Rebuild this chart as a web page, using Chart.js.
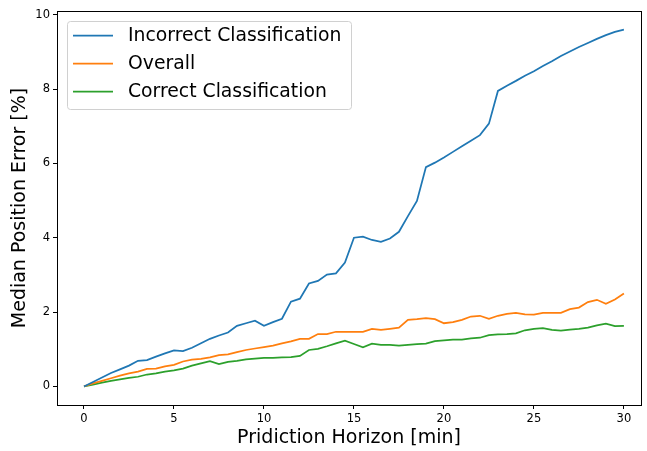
<!DOCTYPE html>
<html>
<head>
<meta charset="utf-8">
<script src="https://cdn.jsdelivr.net/npm/chart.js@4/dist/chart.umd.min.js"></script>
<style>
  body { margin: 0; background: #fff; }
</style>
</head>
<body>
<canvas id="myChart" width="647" height="451"></canvas>
<script>
// prediction horizon in minutes
const horizon = [0, 0.5, 1, 1.5, 2, 2.5, 3, 3.5, 4, 4.5, 5, 5.5, 6, 6.5, 7, 7.5, 8, 8.5, 9, 9.5,
    10, 10.5, 11, 11.5, 12, 12.5, 13, 13.5, 14, 14.5, 15, 15.5, 16, 16.5, 17, 17.5, 18, 18.5, 19, 19.5,
    20, 20.5, 21, 21.5, 22, 22.5, 23, 23.5, 24, 24.5, 25, 25.5, 26, 26.5, 27, 27.5, 28, 28.5, 29, 29.5, 30];

// median position error [%]
const incorrect = [0, 0.12, 0.24, 0.36, 0.46, 0.56, 0.69, 0.71, 0.80, 0.89, 0.97, 0.95, 1.04, 1.16, 1.28, 1.37, 1.45, 1.63, 1.70, 1.77,
    1.63, 1.73, 1.82, 2.28, 2.36, 2.77, 2.84, 3.01, 3.04, 3.33, 4.00, 4.03, 3.94, 3.89, 3.98, 4.16, 4.58, 4.99, 5.90, 6.02,
    6.16, 6.31, 6.46, 6.61, 6.76, 7.07, 7.95, 8.09, 8.22, 8.36, 8.48, 8.62, 8.75, 8.89, 9.01, 9.13, 9.24, 9.35, 9.45, 9.54, 9.60];
const overall = [0, 0.08, 0.15, 0.22, 0.29, 0.35, 0.40, 0.47, 0.48, 0.54, 0.58, 0.67, 0.72, 0.74, 0.78, 0.84, 0.86, 0.92, 0.98, 1.02,
    1.06, 1.10, 1.16, 1.21, 1.28, 1.28, 1.41, 1.41, 1.47, 1.47, 1.47, 1.47, 1.55, 1.52, 1.55, 1.58, 1.79, 1.81, 1.84, 1.81,
    1.70, 1.73, 1.79, 1.88, 1.90, 1.82, 1.90, 1.95, 1.98, 1.94, 1.93, 1.98, 1.98, 1.98, 2.08, 2.12, 2.27, 2.33, 2.22, 2.34, 2.50];
const correct = [0, 0.05, 0.10, 0.15, 0.19, 0.23, 0.26, 0.32, 0.35, 0.40, 0.43, 0.48, 0.56, 0.62, 0.68, 0.60, 0.66, 0.69, 0.73, 0.75,
    0.77, 0.77, 0.78, 0.79, 0.82, 0.98, 1.01, 1.08, 1.16, 1.23, 1.14, 1.05, 1.15, 1.12, 1.12, 1.10, 1.12, 1.14, 1.15, 1.22,
    1.24, 1.26, 1.26, 1.29, 1.31, 1.38, 1.40, 1.41, 1.43, 1.51, 1.55, 1.57, 1.52, 1.50, 1.53, 1.55, 1.58, 1.64, 1.69, 1.62, 1.63];

const xTicks = [0, 5, 10, 15, 20, 25, 30];
const yTicks = [0, 2, 4, 6, 8, 10];

const FONT = 'DejaVu Sans';

function points(values) {
    return horizon.map((h, i) => ({ x: h, y: values[i] }));
}

// black frame round the plot area
const frame = {
    id: 'frame',
    afterDatasetsDraw(chart) {
        const { ctx, chartArea: a } = chart;
        ctx.save();
        ctx.strokeStyle = '#000';
        ctx.lineWidth = 1;
        ctx.strokeRect(Math.round(a.left) + 0.5, Math.round(a.top) + 0.5,
            Math.round(a.right - a.left), Math.round(a.bottom - a.top));
        ctx.restore();
    }
};

// boxed legend in the upper left corner of the plot
const legendBox = {
    id: 'legendBox',
    afterDraw(chart) {
        const { ctx, chartArea: a } = chart;
        const x = a.left + 10, y = a.top + 10, w = 284, h = 88;
        ctx.save();
        ctx.beginPath();
        ctx.roundRect(x + 0.5, y + 0.5, w, h, 3);
        ctx.fillStyle = 'rgba(255,255,255,0.8)';
        ctx.fill();
        ctx.strokeStyle = '#d0d0d0';
        ctx.lineWidth = 1;
        ctx.stroke();
        ctx.font = '18.8px "' + FONT + '"';
        ctx.textBaseline = 'middle';
        chart.data.datasets.forEach((ds, i) => {
            const ly = y + 14.5 + i * 28;
            ctx.strokeStyle = ds.borderColor;
            ctx.lineWidth = ds.borderWidth;
            ctx.beginPath();
            ctx.moveTo(x + 6, ly);
            ctx.lineTo(x + 46, ly);
            ctx.stroke();
            ctx.fillStyle = '#000';
            ctx.fillText(ds.label, x + 61, ly + 1);
        });
        ctx.restore();
    }
};

const ctx = document.getElementById('myChart');
new Chart(ctx, {
    type: 'line',
    data: {
        datasets: [
            { label: 'Incorrect Classification', data: points(incorrect), borderColor: '#1f77b4', borderWidth: 1.75 },
            { label: 'Overall', data: points(overall), borderColor: '#ff7f0e', borderWidth: 1.75 },
            { label: 'Correct Classification', data: points(correct), borderColor: '#2ca02c', borderWidth: 1.75 }
        ]
    },
    options: {
        responsive: false,
        animation: false,
        devicePixelRatio: 1,
        elements: { point: { radius: 0 }, line: { tension: 0 } },
        layout: { padding: { top: 11, right: 6, left: 0, bottom: 0 } },
        plugins: {
            legend: { display: false },
            tooltip: { enabled: false }
        },
        scales: {
            x: {
                type: 'linear',
                min: -1.5,
                max: 30.95,
                afterBuildTicks: s => { s.ticks = xTicks.map(v => ({ value: v })); },
                afterFit: s => { s.height = 46; },
                ticks: {
                    color: '#000',
                    padding: 3,
                    maxRotation: 0,
                    font: { family: FONT, size: 11.5 },
                    callback: v => String(v)
                },
                grid: { drawOnChartArea: false, tickLength: 4, tickColor: '#000' },
                border: { display: false },
                title: {
                    display: true,
                    text: 'Pridiction Horizon [min]',
                    color: '#000',
                    font: { family: FONT, size: 19 },
                    padding: { top: 0, bottom: 2 }
                }
            },
            y: {
                min: -0.5,
                max: 10.1,
                afterBuildTicks: s => { s.ticks = yTicks.map(v => ({ value: v })); },
                afterFit: s => { s.width = 57; },
                ticks: {
                    color: '#000',
                    padding: 3,
                    font: { family: FONT, size: 11.5 },
                    callback: v => String(v)
                },
                grid: { drawOnChartArea: false, tickLength: 4, tickColor: '#000' },
                border: { display: false },
                title: {
                    display: true,
                    text: 'Median Position Error [%]',
                    color: '#000',
                    font: { family: FONT, size: 19 },
                    padding: { top: 9, bottom: 0 }
                }
            }
        }
    },
    plugins: [frame, legendBox]
});
</script>
</body>
</html>
